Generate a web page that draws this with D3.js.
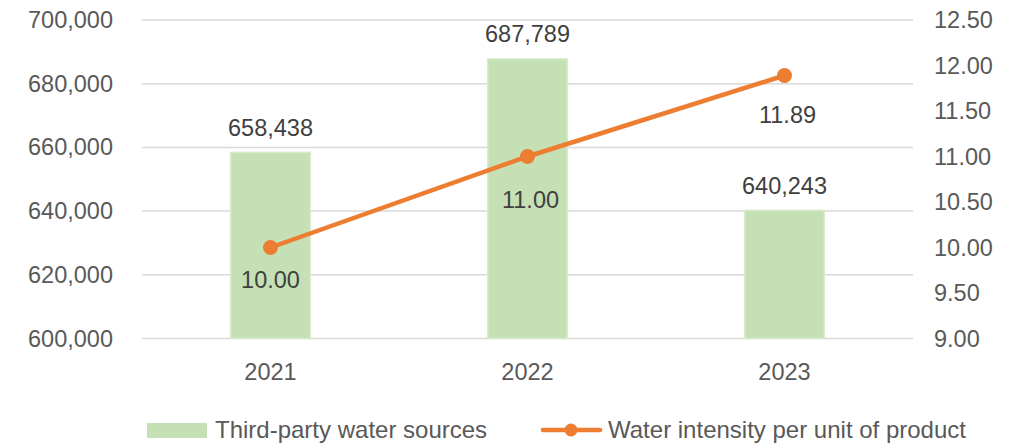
<!DOCTYPE html>
<html>
<head>
<meta charset="utf-8">
<script src="https://cdn.jsdelivr.net/npm/d3@7"></script>
<style>
  html, body { margin: 0; padding: 0; background: #fff; }
  svg text { font-family: "Liberation Sans", Arial, Helvetica, sans-serif; }
</style>
</head>
<body>
<svg id="chart" width="1025" height="448"></svg>
<script>
// Years on the category axis
const years = ["2021", "2022", "2023"];
// Water withdrawn from third-party sources
const thirdPartyWater = [658438, 687789, 640243];
// Water intensity per unit of product
const waterIntensity = [10.00, 11.00, 11.89];
// Axis ticks
const leftTicks = [600000, 620000, 640000, 660000, 680000, 700000];
const rightTicks = [9.0, 9.5, 10.0, 10.5, 11.0, 11.5, 12.0, 12.5];
// Legend entries
const seriesNames = ["Third-party water sources", "Water intensity per unit of product"];

const svg = d3.select("#chart");
const plot = { left: 142, right: 913, top: 20, bottom: 338.5 };
const barColor = "#c5e0b4";
const lineColor = "#ed7d31";
const fontSize = 23.5;

const x = d3.scaleBand().domain(years).range([plot.left, plot.right]).paddingInner(0.69).paddingOuter(0.345);
const yLeft = d3.scaleLinear().domain([600000, 700000]).range([plot.bottom, plot.top]);
const yRight = d3.scaleLinear().domain([9, 12.5]).range([plot.bottom, plot.top]);
const cx = d => x(d) + x.bandwidth() / 2;

// Horizontal gridlines
svg.append("g").selectAll("line").data(leftTicks).join("line")
  .attr("x1", plot.left).attr("x2", plot.right)
  .attr("y1", d => yLeft(d)).attr("y2", d => yLeft(d))
  .attr("stroke", "#d9d9d9").attr("stroke-width", 1.5);

// Left axis
const fmt = d3.format(",");
const leftAxis = svg.append("g").attr("transform", `translate(${plot.left},0)`)
  .call(d3.axisLeft(yLeft).tickValues(leftTicks).tickFormat(fmt).tickSize(0).tickPadding(29));
leftAxis.select(".domain").remove();
leftAxis.selectAll("text").attr("font-size", fontSize).attr("fill", "#595959")
  .attr("font-family", "Liberation Sans, Arial, sans-serif");

// Right axis
const rightAxis = svg.append("g").attr("transform", `translate(${plot.right},0)`)
  .call(d3.axisRight(yRight).tickValues(rightTicks).tickFormat(d3.format(".2f")).tickSize(0).tickPadding(21));
rightAxis.select(".domain").remove();
rightAxis.selectAll("text").attr("font-size", fontSize).attr("fill", "#595959")
  .attr("font-family", "Liberation Sans, Arial, sans-serif");

// Category axis
const xAxis = svg.append("g").attr("transform", `translate(0,${plot.bottom})`)
  .call(d3.axisBottom(x).tickSize(0).tickPadding(25));
xAxis.select(".domain").remove();
xAxis.selectAll("text").attr("font-size", fontSize).attr("fill", "#595959")
  .attr("font-family", "Liberation Sans, Arial, sans-serif");

// Bars
const barData = years.map((y, i) => ({ year: y, value: thirdPartyWater[i] }));
svg.append("g").selectAll("rect").data(barData).join("rect")
  .attr("x", d => x(d.year))
  .attr("width", x.bandwidth())
  .attr("y", d => yLeft(d.value))
  .attr("height", d => plot.bottom - yLeft(d.value))
  .attr("fill", barColor)
  .attr("stroke", "#d8ebcb").attr("stroke-width", 1.5);

// Bar value labels
svg.append("g").selectAll("text").data(barData).join("text")
  .attr("x", d => cx(d.year))
  .attr("y", d => yLeft(d.value) - 25)
  .attr("dy", "0.35em")
  .attr("text-anchor", "middle")
  .attr("font-size", fontSize).attr("fill", "#404040")
  .text(d => fmt(d.value));

// Intensity line
const lineData = years.map((y, i) => ({ year: y, value: waterIntensity[i] }));
svg.append("path").datum(lineData)
  .attr("fill", "none").attr("stroke", lineColor).attr("stroke-width", 4.5)
  .attr("stroke-linecap", "round")
  .attr("d", d3.line().x(d => cx(d.year)).y(d => yRight(d.value)));
svg.append("g").selectAll("circle").data(lineData).join("circle")
  .attr("cx", d => cx(d.year)).attr("cy", d => yRight(d.value))
  .attr("r", 7.5).attr("fill", lineColor);

// Intensity labels, placed below each point
const labelNudge = [{ dx: 0, dy: 32 }, { dx: 3, dy: 43 }, { dx: 3, dy: 39 }];
svg.append("g").selectAll("text").data(lineData).join("text")
  .attr("x", (d, i) => cx(d.year) + labelNudge[i].dx)
  .attr("y", (d, i) => yRight(d.value) + labelNudge[i].dy)
  .attr("dy", "0.35em")
  .attr("text-anchor", "middle")
  .attr("font-size", fontSize).attr("fill", "#404040")
  .text(d => d3.format(".2f")(d.value));

// Legend
const legendFont = 24;
const legend = svg.append("g");
legend.append("rect").attr("x", 147).attr("y", 423).attr("width", 60).attr("height", 15).attr("fill", barColor);
legend.append("text").attr("x", 215).attr("y", 438).attr("font-size", legendFont).attr("fill", "#595959")
  .text(seriesNames[0]);
legend.append("line").attr("x1", 543).attr("x2", 600).attr("y1", 430).attr("y2", 430)
  .attr("stroke", lineColor).attr("stroke-width", 4.5).attr("stroke-linecap", "round");
legend.append("circle").attr("cx", 571).attr("cy", 430).attr("r", 6.5).attr("fill", lineColor);
legend.append("text").attr("x", 608).attr("y", 438).attr("font-size", legendFont).attr("fill", "#595959")
  .text(seriesNames[1]);
</script>
</body>
</html>
